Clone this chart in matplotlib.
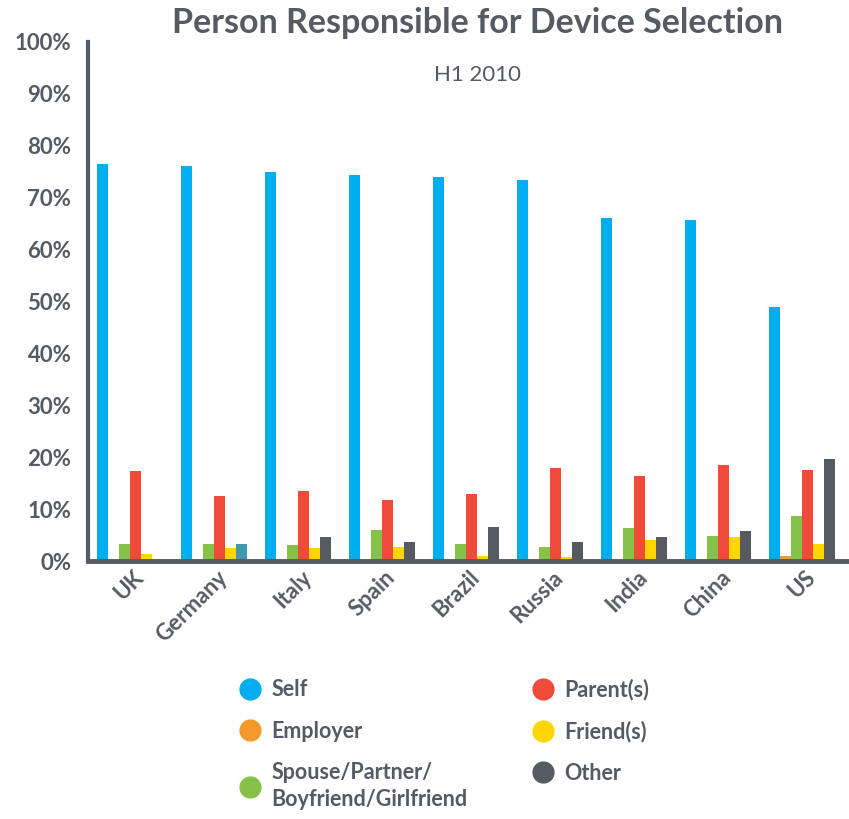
import matplotlib
matplotlib.use('Agg')
import matplotlib.pyplot as plt
from matplotlib.lines import Line2D
import numpy as np

plt.rcParams['font.family'] = ['Lato', 'DejaVu Sans']

# Data (percent)
countries = ['UK', 'Germany', 'Italy', 'Spain', 'Brazil', 'Russia', 'India', 'China', 'US']
series = ['Self', 'Employer', 'Spouse/Partner/\nBoyfriend/Girlfriend', 'Parent(s)', 'Friend(s)', 'Other']
self_vals = [76.4, 76.1, 74.9, 74.3, 73.9, 73.4, 66.0, 65.6, 49.0]
employer = [0.2, 0.2, 0.1, 0.1, 0.1, 0.1, 0.1, 0.1, 1.0]
spouse = [3.3, 3.3, 3.1, 6.0, 3.3, 2.7, 6.4, 4.8, 8.7]
parents = [17.4, 12.5, 13.5, 11.8, 12.9, 18.0, 16.4, 18.5, 17.5]
friends = [1.4, 2.5, 2.5, 2.7, 1.0, 0.8, 4.0, 4.6, 3.3]
other = [0.0, 3.3, 4.6, 3.7, 6.6, 3.7, 4.6, 5.8, 19.7]

colors = ['#00adef', '#f7982a', '#86c249', '#f04a3a', '#ffd600', '#555a63']
gray = '#555a63'

fig = plt.figure(figsize=(8.49, 8.19), dpi=100)
ax = fig.add_axes([0.1037, 0.315, 0.8963, 0.634])

x = np.arange(len(countries))
w = 11 / 84
for k, vals in enumerate([self_vals, employer, spouse, parents, friends, other]):
    bars = ax.bar(x + k * w, vals, width=w, align='edge', color=colors[k], linewidth=0)
    if k == 5:
        bars[1].set_color('#4497b0')  # Germany "Other" bar is teal in the source

ax.set_xlim(-0.107, 8.95)
ax.set_ylim(0, 100)
ax.set_yticks(np.arange(0, 101, 10))
ax.set_yticklabels([f'{v}%' for v in range(0, 101, 10)], fontsize=16,
                   fontweight='bold', color=gray)
ax.set_xticks(x + 3 * w + 0.03)
ax.set_xticklabels(countries, rotation=45, ha='right', rotation_mode='anchor',
                   fontsize=16, fontweight='bold', color=gray)
ax.tick_params(axis='both', length=0)
ax.tick_params(axis='y', pad=12)
ax.tick_params(axis='x', pad=4)

for s in ['top', 'right']:
    ax.spines[s].set_visible(False)
ax.spines['left'].set_color(gray)
ax.spines['left'].set_linewidth(3)
ax.spines['bottom'].set_color(gray)
ax.spines['bottom'].set_linewidth(3.5)

fig.text(0.563, 0.972, 'Person Responsible for Device Selection', ha='center', va='center',
         fontsize=24.5, fontweight='bold', color=gray)
fig.text(0.563, 0.908, 'H1 2010', ha='center', va='center', fontsize=16, color=gray)

handles = [Line2D([], [], marker='o', linestyle='', markersize=15, color=c) for c in colors]
leg = fig.legend(handles, series, ncol=2, loc='upper left', bbox_to_anchor=(0.254, 0.195),
                 frameon=False, handletextpad=0.3, columnspacing=2.8, labelspacing=0.95,
                 handlelength=1.4, prop={'size': 15.5, 'weight': 'bold'})
for t in leg.get_texts():
    t.set_color(gray)
    t.set_linespacing(1.35)

fig.savefig('out.png', dpi=100)
